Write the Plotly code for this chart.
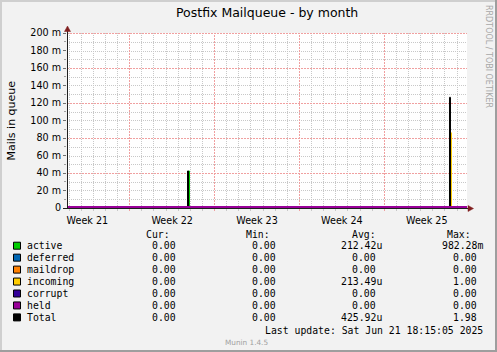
import math
import plotly.graph_objects as go
from datetime import datetime, timedelta

# ---------------- data ----------------
range_start = "2025-05-19 19:45"
range_end = "2025-06-21 19:45"

series_names = ["active", "deferred", "maildrop", "incoming", "corrupt", "held", "Total"]
series_colors = ["#00CC00", "#0066B3", "#FF8000", "#FFCC00", "#330099", "#990099", "#000000"]

active_t = [range_start, "2025-05-29 20:19", "2025-05-29 22:18", "2025-06-20 09:05", "2025-06-20 11:04", range_end]
active_v = [0, 0.0423, 0, 0.0405, 0, 0]
deferred_t = [range_start, range_end]
deferred_v = [0, 0]
maildrop_t = [range_start, range_end]
maildrop_v = [0, 0]
incoming_t = [range_start, "2025-06-20 11:04", "2025-06-20 13:03", range_end]
incoming_v = [0, 0.086, 0, 0]
corrupt_t = [range_start, range_end]
corrupt_v = [0, 0]
held_t = [range_start, range_end]
held_v = [0, 0]
total_t = [range_start, "2025-05-29 18:20", "2025-05-29 20:19", "2025-06-20 09:05", "2025-06-20 11:04", range_end]
total_v = [0, 0.0423, 0, 0.1265, 0, 0]

stat_cur = ["0.00", "0.00", "0.00", "0.00", "0.00", "0.00", "0.00"]
stat_min = ["0.00", "0.00", "0.00", "0.00", "0.00", "0.00", "0.00"]
stat_avg = ["212.42u", "0.00", "0.00", "213.49u", "0.00", "0.00", "425.92u"]
stat_max = ["982.28m", "0.00", "0.00", "1.00", "0.00", "0.00", "1.98"]

week_ticks = ["2025-05-21 12:00", "2025-05-28 12:00", "2025-06-04 12:00", "2025-06-11 12:00", "2025-06-18 12:00"]
week_labels = ["Week 21", "Week 22", "Week 23", "Week 24", "Week 25"]

y_tickvals = [0, 0.02, 0.04, 0.06, 0.08, 0.10, 0.12, 0.14, 0.16, 0.18, 0.20]
y_ticktext = ["0", "20 m", "40 m", "60 m", "80 m", "100 m", "120 m", "140 m", "160 m", "180 m", "200 m"]

title = "Postfix Mailqueue - by month"
y_title = "Mails in queue"
last_update = "Last update: Sat Jun 21 18:15:05 2025"
watermark = "RRDTOOL / TOBI OETIKER"
footer = "Munin 1.4.5"

# ---------------- layout helpers ----------------
W, H = 497, 352
L, T, PW, PH = 67, 33, 400, 175
Y_MAX = 0.2


def px(x):
    return (x - L) / PW


def py(y):
    return (T + PH - y) / PH


MONO = "DejaVu Sans Mono"
SANS = "DejaVu Sans"
GRID = "rgb(200,200,200)"
MGRID = "rgb(240,160,160)"
ARROW = "#801F1F"
AXIS = "#1F1F1F"

t_start = datetime.strptime(range_start, "%Y-%m-%d %H:%M")
t_end = datetime.strptime(range_end, "%Y-%m-%d %H:%M")
span = (t_end - t_start).total_seconds()

fig = go.Figure()

series_t = [active_t, deferred_t, maildrop_t, incoming_t, corrupt_t, held_t, total_t]
series_v = [active_v, deferred_v, maildrop_v, incoming_v, corrupt_v, held_v, total_v]
draw_order = [0, 1, 2, 3, 4, 6, 5]
for i in draw_order:
    fig.add_trace(go.Scatter(
        x=series_t[i], y=series_v[i], mode="lines", name=series_names[i],
        line=dict(color=series_colors[i], width=4 if series_names[i] == "held" else 1, shape="hv"),
        hoverinfo="skip", showlegend=False))

minor_shapes = []
major_shapes = []
DASH = "1px,1px"
MDASH = "2px,1px"
# horizontal grid, snapped to pixel rows like rrdtool does
for k in range(1, 21):
    v = k * 0.01
    major = (k % 4 == 0)
    row = min(round(T + PH - v / Y_MAX * PH), T + PH - 1)
    vs = (T + PH - (row + 0.5)) / PH * Y_MAX
    shp = dict(type="line", xref="x", yref="y", x0=range_start, x1=range_end, y0=vs, y1=vs,
               layer="below", line=dict(color=MGRID if major else GRID, width=1, dash=MDASH if major else DASH))
    (major_shapes if major else minor_shapes).append(shp)
# vertical grid (daily, Sundays major), snapped to pixel columns
d = datetime(2025, 5, 20)
tick_shapes = []
while d < t_end:
    major = d.weekday() == 6
    col = math.floor(L + (d - t_start).total_seconds() / span * PW)
    ts = t_start + timedelta(seconds=(col + 0.5 - L) / PW * span)
    ds = ts.strftime("%Y-%m-%d %H:%M:%S")
    shp = dict(type="line", xref="x", yref="y", x0=ds, x1=ds, y0=0, y1=Y_MAX,
               layer="below", line=dict(color=MGRID if major else GRID, width=1, dash=MDASH if major else DASH))
    (major_shapes if major else minor_shapes).append(shp)
    tick_shapes.append(dict(type="line", xref="x", yref="paper", x0=ds, x1=ds, y0=py(209), y1=py(211),
                            line=dict(color=MGRID if major else GRID, width=1)))
    d += timedelta(days=1)

shapes = minor_shapes + major_shapes + tick_shapes

# axes lines and arrows
shapes.append(dict(type="line", xref="paper", yref="paper", x0=px(67.5), x1=px(67.5), y0=py(208), y1=py(29),
                   line=dict(color=AXIS, width=1)))
shapes.append(dict(type="line", xref="paper", yref="paper", x0=px(63), x1=px(469), y0=py(208.5), y1=py(208.5),
                   line=dict(color=AXIS, width=1)))
shapes.append(dict(type="path", xref="paper", yref="paper",
                   path=f"M {px(64.5)} {py(31.5)} L {px(70.5)} {py(31.5)} L {px(67.5)} {py(26)} Z",
                   fillcolor=ARROW, line=dict(color=ARROW, width=0.5)))
shapes.append(dict(type="path", xref="paper", yref="paper",
                   path=f"M {px(468)} {py(205.5)} L {px(468)} {py(211.5)} L {px(473.5)} {py(208.5)} Z",
                   fillcolor=ARROW, line=dict(color=ARROW, width=0.5)))

# frame (3D border)
shapes.append(dict(type="rect", xref="paper", yref="paper", x0=px(0), x1=px(2), y0=py(0), y1=py(352),
                   fillcolor="#CFCFCF", line=dict(width=0)))
shapes.append(dict(type="rect", xref="paper", yref="paper", x0=px(0), x1=px(497), y0=py(0), y1=py(2),
                   fillcolor="#CFCFCF", line=dict(width=0)))
shapes.append(dict(type="rect", xref="paper", yref="paper", x0=px(495), x1=px(497), y0=py(0), y1=py(352),
                   fillcolor="#9E9E9E", line=dict(width=0)))
shapes.append(dict(type="rect", xref="paper", yref="paper", x0=px(0), x1=px(497), y0=py(350), y1=py(352),
                   fillcolor="#9E9E9E", line=dict(width=0)))

annotations = []


def txt(x, y, s, size, family=SANS, xanchor="left", color="black", angle=0):
    annotations.append(dict(xref="paper", yref="paper", x=px(x), y=py(y), text=s, showarrow=False,
                            xanchor=xanchor, yanchor="middle", textangle=angle, borderpad=0, borderwidth=0,
                            font=dict(family=family, size=size, color=color)))


txt(267, 13, title, 12.5, xanchor="center")
txt(11, 120.5, y_title, 11, xanchor="center", angle=-90)
txt(489, 56, watermark, 8, xanchor="center", color="#A8A8A8", angle=90)

# legend
row0 = 245.7
dy = 11.95
txt(146, 234, "Cur:", 9.8, MONO)
txt(246, 234, "Min:", 9.8, MONO)
txt(352, 234, "Avg:", 9.8, MONO)
txt(447, 234, "Max:", 9.8, MONO)


def unitpad(s):
    return s if s[-1] in "um" else s + "\u00a0"


for i, name in enumerate(series_names):
    yc = row0 + i * dy
    shapes.append(dict(type="rect", xref="paper", yref="paper", x0=px(13.5), x1=px(20.5),
                       y0=py(yc - 3.5), y1=py(yc + 3.5), fillcolor=series_colors[i],
                       line=dict(color="black", width=1)))
    txt(27, yc, name, 9.8, MONO)
    txt(181.5, yc, unitpad(stat_cur[i]), 9.8, MONO, xanchor="right")
    txt(282, yc, unitpad(stat_min[i]), 9.8, MONO, xanchor="right")
    txt(382, yc, unitpad(stat_avg[i]), 9.8, MONO, xanchor="right")
    txt(483, yc, unitpad(stat_max[i]), 9.8, MONO, xanchor="right")

txt(483, 330, last_update, 9.8, MONO, xanchor="right")
txt(246, 342, footer, 7.3, SANS, xanchor="center", color="#A0A0A0")

fig.update_layout(
    width=W, height=H,
    margin=dict(l=L, r=W - L - PW, t=T, b=H - T - PH, pad=0),
    paper_bgcolor="#F2F2F2", plot_bgcolor="#FFFFFF",
    shapes=shapes, annotations=annotations,
    xaxis=dict(type="date", range=[range_start, range_end], showgrid=False, zeroline=False, showline=False,
               tickvals=week_ticks, ticktext=week_labels, ticks="outside", ticklen=3,
               tickcolor="rgba(0,0,0,0)", tickfont=dict(family=SANS, size=9.6, color="black")),
    yaxis=dict(range=[0, Y_MAX], showgrid=False, zeroline=False, showline=False,
               tickvals=y_tickvals, ticktext=y_ticktext, ticks="outside", ticklen=3, tickwidth=1,
               tickcolor="#707070", tickfont=dict(family=SANS, size=9.6, color="black"),
               minor=dict(dtick=0.01, ticks="outside", ticklen=2, tickcolor="#A0A0A0", showgrid=False)),
    showlegend=False,
)

fig.write_html("out.html")
